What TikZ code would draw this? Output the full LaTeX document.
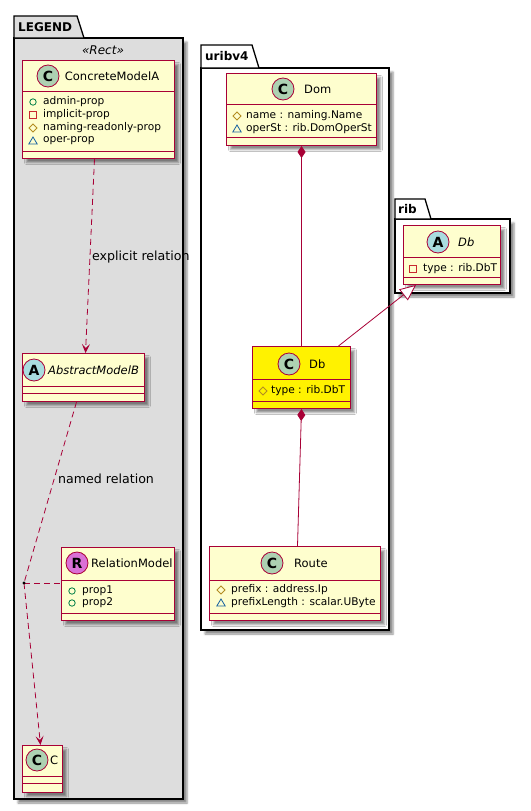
\documentclass[tikz,border=0pt]{standalone}
\usepackage{fontspec}
\setmainfont{DejaVu Sans}
\usetikzlibrary{arrows.meta,shadows.blur,calc}
\definecolor{bord}{HTML}{A80036}
\definecolor{clsfill}{HTML}{FEFECE}
\definecolor{legfill}{HTML}{DDDDDD}
\definecolor{cgreen}{HTML}{ADD1B2}
\definecolor{cblue}{HTML}{A9DCDF}
\definecolor{corchid}{HTML}{DA70D6}
\definecolor{pubcol}{HTML}{038048}
\definecolor{privcol}{HTML}{C82930}
\definecolor{protcol}{HTML}{B38D22}
\definecolor{pkgcol}{HTML}{1963A0}
\tikzset{
  shad/.style={blur shadow={shadow xshift=4pt,shadow yshift=-4pt,shadow blur radius=2pt,shadow opacity=45}},
  cls/.style={draw=bord,fill=clsfill,line width=1pt,anchor=north west,inner sep=0pt,shad},
  sepline/.style={draw=bord,line width=1pt},
  circ/.style={circle,draw=bord,line width=0.8pt,minimum size=22pt,inner sep=0pt,font=\fontsize{14}{14}\selectfont\bfseries},
  cname/.style={font=\fontsize{11.5}{12}\selectfont,inner sep=0pt},
  attr/.style={font=\fontsize{10.6}{11}\selectfont,inner sep=0pt,anchor=west},
  lbl/.style={font=\fontsize{12.6}{13}\selectfont,inner sep=0pt,anchor=west},
  pkg/.style={draw=black,line width=1.3pt},
  pkgname/.style={font=\fontsize{12}{12}\selectfont\bfseries,inner sep=0pt,anchor=west},
  rel/.style={draw=bord,line width=0.8pt},
  dep/.style={rel,dash pattern=on 6pt off 4pt,-{Stealth[length=9pt,width=8pt,inset=4pt]}},
}
\newcommand\umlbox[8]{%
  \node[cls,fill=#8,minimum width={#4-#2},minimum height={#5-#3}] (#1) at (#2,#3) {};
  \draw[sepline] (#2,#6) -- (#4,#6);
  \draw[sepline] (#2,#7) -- (#4,#7);
}
\newcommand\pubic[2]{\draw[pubcol,line width=0.8pt] (#1,#2) circle (3.2);}
\newcommand\privic[2]{\draw[privcol,line width=0.8pt] (#1-3.2,#2-3.2) rectangle (#1+3.2,#2+3.2);}
\newcommand\protic[2]{\draw[protcol,line width=0.8pt] (#1-4,#2) -- (#1,#2-4) -- (#1+4,#2) -- (#1,#2+4) -- cycle;}
\newcommand\pkgic[2]{\draw[pkgcol,line width=0.8pt] (#1-4.2,#2+3) -- (#1+4.2,#2+3) -- (#1,#2-4) -- cycle;}
\begin{document}
\begin{tikzpicture}[x=1pt,y=-1pt]
\useasboundingbox (0,0) rectangle (530,811);
% ---------- packages ----------
\filldraw[pkg,fill=legfill,shad] (14,38) rectangle (183,799);
\filldraw[pkg,fill=legfill] (14,38) -- (14,16) -- (77,16) -- (84,38) -- cycle;
\node[pkgname] (legendname) at (18,27) {LEGEND};
\node[font=\fontsize{12}{12}\selectfont\itshape,inner sep=0pt] (stereo) at (103,50) {«Rect»};

\filldraw[pkg,fill=white,shad] (201,68) rectangle (389,630);
\filldraw[pkg,fill=white] (201,68) -- (201,45) -- (252,45) -- (259,68) -- cycle;
\node[pkgname] (uribname) at (205,56) {uribv4};

\filldraw[pkg,fill=white,shad] (395,219) rectangle (510,293);
\filldraw[pkg,fill=white] (395,219) -- (395,199) -- (425,199) -- (431,219) -- cycle;
\node[pkgname] (ribname) at (398,209) {rib};

% ---------- ConcreteModelA ----------
\umlbox{cma}{22}{60}{174}{158}{91}{151}{clsfill}
\node[circ,fill=cgreen] (cmaI) at (48,76) {C};
\node[cname] (cmaN) at (112,76) {ConcreteModelA};
\pubic{33}{102}\node[attr] at (43,102) {admin-prop};
\privic{33}{115}\node[attr] at (43,115) {implicit-prop};
\protic{33}{128}\node[attr] at (43,128) {naming-readonly-prop};
\pkgic{33}{141}\node[attr] at (43,141) {oper-prop};

% ---------- AbstractModelB ----------
\umlbox{amb}{22}{353}{144}{401}{386}{393}{clsfill}
\node[circ,fill=cblue] (ambI) at (34,370) {A};
\node[cname,font=\fontsize{11.5}{12}\selectfont\itshape,anchor=west] (ambN) at (48,370) {AbstractModelB};

% ---------- RelationModel ----------
\umlbox{relm}{61}{547}{174}{620}{580}{613}{clsfill}
\node[circ,fill=corchid] (relmI) at (77,563) {R};
\node[cname,anchor=west] (relmN) at (91,563) {RelationModel};
\pubic{72}{591}\node[attr] at (82,591) {prop1};
\pubic{72}{603}\node[attr] at (82,603) {prop2};

% ---------- C ----------
\umlbox{cc}{22}{745}{62}{792}{776}{783}{clsfill}
\node[circ,fill=cgreen] (ccI) at (37,760) {C};
\node[cname,anchor=west] (ccN) at (50,760) {C};

% ---------- Dom ----------
\umlbox{dom}{226}{73}{376}{145}{104}{137}{clsfill}
\node[circ,fill=cgreen] (domI) at (283,89) {C};
\node[cname,anchor=west] (domN) at (304,89) {Dom};
\protic{237}{116}\node[attr] at (246,116) {name : naming.Name};
\pkgic{237}{129}\node[attr] at (246,129) {operSt : rib.DomOperSt};

% ---------- Db (uribv4) ----------
\umlbox{db}{252}{346}{350}{408}{379}{401}{yellow}
\node[circ,fill=cgreen] (dbI) at (289,364) {C};
\node[cname,anchor=west] (dbN) at (309,364) {Db};
\protic{263}{391}\node[attr] at (271,391) {type : rib.DbT};

% ---------- Route ----------
\umlbox{route}{209}{546}{380}{620}{580}{613}{clsfill}
\node[circ,fill=cgreen] (routeI) at (272,563) {C};
\node[cname,anchor=west] (routeN) at (294,563) {Route};
\protic{221}{590}\node[attr] at (231,590) {prefix : address.Ip};
\pkgic{221}{603}\node[attr] at (231,603) {prefixLength : scalar.UByte};

% ---------- rib Db ----------
\umlbox{ribdb}{403}{225}{500}{284}{257}{277}{clsfill}
\node[circ,fill=cblue] (ribdbI) at (438,242) {A};
\node[cname,font=\fontsize{11.5}{12}\selectfont\itshape,anchor=west] (ribdbN) at (458,242) {Db};
\privic{413}{269}\node[attr] at (423,269) {type : rib.DbT};

% ---------- connectors ----------
\draw[dep] ([xshift=-4pt]cma.south) -- ([xshift=2pt]amb.north);
\node[lbl] (explicit) at (92,257) {explicit relation};

\coordinate (dot) at (24,583);
\draw[rel,dash pattern=on 6pt off 4pt] ([xshift=-7pt]amb.south) -- (dot);
\draw[dep] (dot) -- ([xshift=-2pt]cc.north);
\draw[rel,dash pattern=on 6pt off 4pt] (dot) -- (dot -| relm.west);
\fill[black] (dot) circle (1.6);
\node[lbl] (named) at (58,479) {named relation};

\draw[rel,{Diamond[length=12pt,width=8pt]}-] (dom.south) -- (dom.south |- db.north);
\draw[rel,{Diamond[length=12pt,width=8pt]}-] (db.south) -- ([xshift=-4pt]db.south |- route.north);
\draw[rel,-{Triangle[open,length=16pt,width=14pt,fill=white]}] ([xshift=37pt]db.north) -- ([xshift=-36pt]ribdb.south);
\end{tikzpicture}
\end{document}
